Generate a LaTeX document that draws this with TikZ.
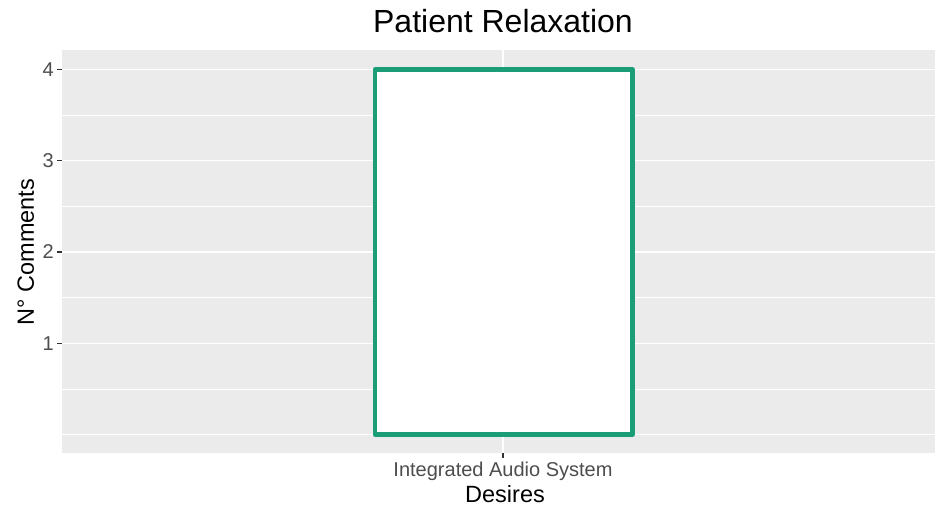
\documentclass[tikz,border=0pt]{standalone}
\usepackage{fontspec}
\setmainfont{Liberation Sans}
\definecolor{panelgray}{HTML}{EBEBEB}
\definecolor{barline}{HTML}{1B9E77}
\definecolor{ticktext}{HTML}{4D4D4D}
\definecolor{tickmark}{HTML}{333333}
\tikzset{
  majorgrid/.style={draw=white, line width=1.6pt},
  minorgrid/.style={draw=white, line width=0.8pt},
  tickline/.style={draw=tickmark, line width=1.2pt},
  ticklabel/.style={text=ticktext, font=\fontsize{20}{23}\selectfont, inner sep=0pt},
  axistitle/.style={text=black, font=\fontsize{23.5}{27}\selectfont, inner sep=0pt},
  plottitle/.style={text=black, font=\fontsize{32}{38}\selectfont, inner sep=0pt},
  barbox/.style={draw=barline, fill=white, line width=4.5pt, line join=round}
}
\begin{document}
\begin{tikzpicture}[x=1pt, y=-1pt]
\useasboundingbox (0,0) rectangle (935,508);
% panel
\fill[panelgray] (62,50) rectangle (935,453);
% horizontal grid: value v sits at 434.6 - 91.3 v
\foreach \v in {0,0.5,1.5,2.5,3.5}
  \draw[minorgrid] (62,{434.6-91.3*\v}) -- (935,{434.6-91.3*\v});
\foreach \v in {1,2,3,4}
  \draw[majorgrid] (62,{434.6-91.3*\v}) -- (935,{434.6-91.3*\v});
% vertical grid
\draw[majorgrid] (503,50) -- (503,453);
% the bar
\node[barbox, minimum width=257.5pt, minimum height=365.2pt, inner sep=0pt, outer sep=0pt, anchor=south west] (bar) at (375,434.6) {};
% y ticks and labels
\foreach \v in {1,2,3,4} {
  \coordinate (yt\v) at (62,{434.6-91.3*\v});
  \draw[tickline] (yt\v) -- ++(-5,0);
  \node[ticklabel, anchor=east] (yl\v) at ([xshift=-8pt]yt\v) {\v};
}
% x tick and label
\coordinate (xt) at (503,453);
\draw[tickline] (xt) -- ++(0,5);
\node[ticklabel, anchor=base] (xl) at (503,476) {Integrated Audio System};
% axis titles
\node[axistitle, anchor=base] (xtitle) at (505,502) {Desires};
\node[axistitle, rotate=90, anchor=base] (ytitle) at (34,252) {N° Comments};
% plot title
\node[plottitle, anchor=base] (title) at (503,33) {Patient Relaxation};
\end{tikzpicture}
\end{document}
